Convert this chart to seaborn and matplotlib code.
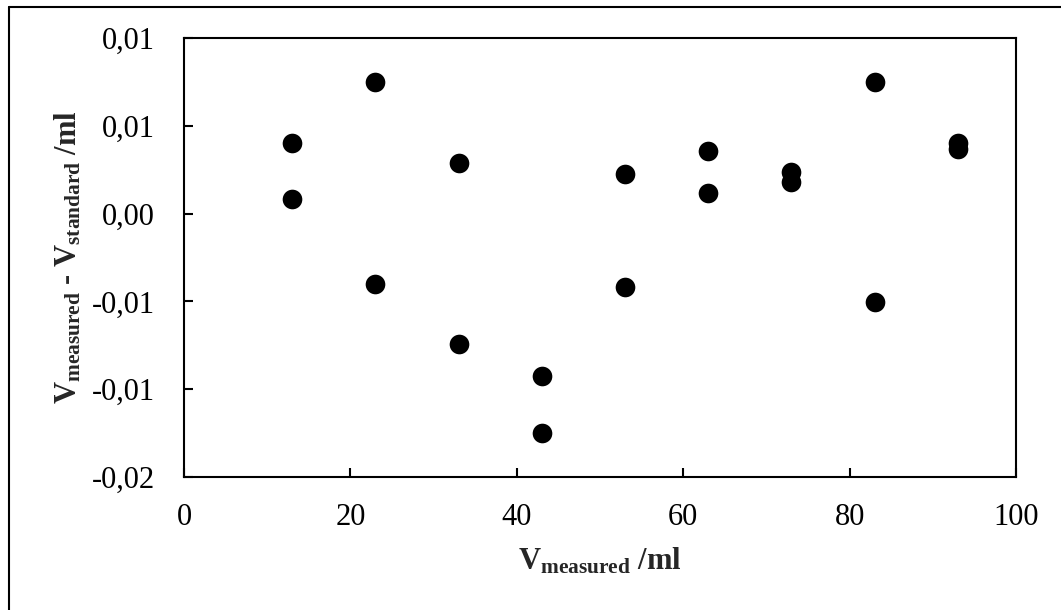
import matplotlib
matplotlib.use("Agg")
import matplotlib.pyplot as plt
import seaborn as sns
import pandas as pd
from matplotlib.ticker import FuncFormatter
from matplotlib.lines import Line2D

# Data
v_measured = [13, 13, 23, 23, 33, 33, 43, 43, 53, 53, 63, 63, 73, 73, 83, 83, 93, 93]
v_diff = [0.0048, 0.00103, 0.00902, -0.0048, 0.00347, -0.00891, -0.01109, -0.01498,
          0.00274, -0.00503, 0.00427, 0.00141, 0.00285, 0.00217, 0.00902, -0.00606,
          0.0048, 0.00439]
x_ticks = [0, 20, 40, 60, 80, 100]
y_ticks = [-0.018, -0.012, -0.006, 0.0, 0.006, 0.012]

df = pd.DataFrame({"x": v_measured, "y": v_diff})

sns.set_style("ticks")
plt.rcParams["font.family"] = ["Liberation Serif", "DejaVu Serif"]
plt.rcParams["mathtext.fontset"] = "custom"
plt.rcParams["mathtext.rm"] = "Liberation Serif"
plt.rcParams["mathtext.bf"] = "Liberation Serif:bold"
plt.rcParams["mathtext.it"] = "Liberation Serif:italic"

fig = plt.figure(figsize=(10.61, 6.10), dpi=100)
ax = fig.add_axes([0.1734, 0.218, 0.7842, 0.7197])

sns.scatterplot(data=df, x="x", y="y", ax=ax, color="black", s=200,
                edgecolor="black", linewidth=0, zorder=3)

ax.set_xlim(0, 100)
ax.set_ylim(-0.018, 0.012)
ax.set_xticks(x_ticks)
ax.set_yticks(y_ticks)
ax.yaxis.set_major_formatter(FuncFormatter(lambda v, p: f"{round(v, 6):.2f}".replace(".", ",").replace("-0,00", "0,00")))
ax.xaxis.set_major_formatter(FuncFormatter(lambda v, p: f"{v:.0f}"))

for sp in ax.spines.values():
    sp.set_visible(True)
    sp.set_color("black")
    sp.set_linewidth(1.5)

ax.tick_params(axis="both", direction="in", length=6.5, width=1.5, colors="black", labelsize=22)
ax.tick_params(axis="y", pad=21)
ax.tick_params(axis="x", pad=19)
ax.tick_params(axis="y", right=False)
ax.tick_params(axis="x", top=False)

ax.set_xlabel(r"$\mathbf{V_{measured}}$ /ml", fontsize=22, fontweight="bold", labelpad=10)
ax.set_ylabel(r"$\mathbf{V_{measured}}$ - $\mathbf{V_{standard}}$ /ml", fontsize=22,
              fontweight="bold", labelpad=6)

# outer frame (top and left visible in reference)
fig.add_artist(Line2D([9/1061, 1.0], [1 - 7/610, 1 - 7/610], transform=fig.transFigure,
                      color="black", linewidth=1.5))
fig.add_artist(Line2D([9/1061, 9/1061], [0.0, 1 - 7/610], transform=fig.transFigure,
                      color="black", linewidth=1.5))

fig.savefig("out.png", dpi=100)
